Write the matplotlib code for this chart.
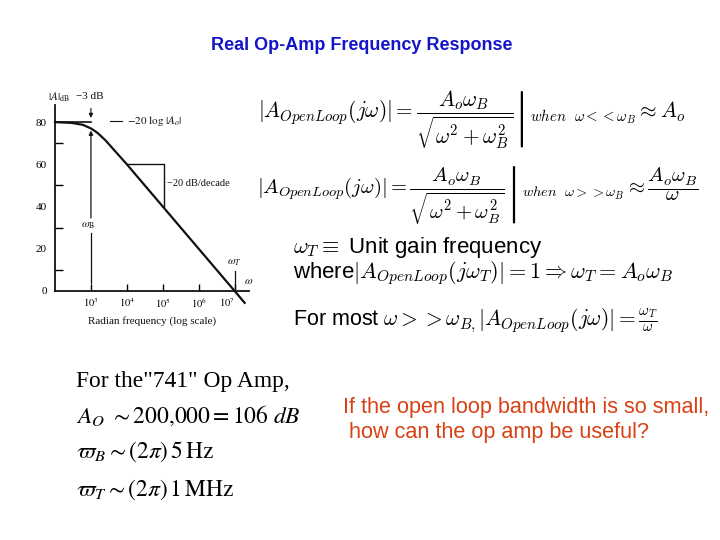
import matplotlib
matplotlib.use("Agg")
import matplotlib.pyplot as plt

W, H = 720, 540

title = "Real Op-Amp Frequency Response"

# Bode magnitude data
freq = [1e2, 3e2, 6e2, 1e3, 1.5e3, 2.5e3, 1e4, 1e5, 1e6, 1e7, 1.9e7]
gain_db = [80, 79.6, 78.7, 77.0, 75.0, 71.5, 60, 40, 20, 0, -5.6]
asym_freq = [1e2, 1e3]
asym_db = [80, 80]
slope_freq = [1e4, 1.1e5, 1.1e5]
slope_db = [60, 60, 40]

y_ticks = [0, 20, 40, 60, 80]
y_minor = [10, 30, 50, 70]
x_ticks = [1e3, 1e4, 1e5, 1e6, 1e7]
x_ticklabels = [r"$10^3$", r"$10^4$", r"$10^5$", r"$10^6$", r"$10^7$"]

eq1 = (r"$|A_{OpenLoop}(j\omega)| = \left.\dfrac{A_o\omega_B}{\sqrt{\omega^2+\omega_B^2}}\right|"
       r"{}_{when\ \ \omega<<\omega_B} \approx A_o$")
eq2 = (r"$|A_{OpenLoop}(j\omega)| = \left.\dfrac{A_o\omega_B}{\sqrt{\omega^2+\omega_B^2}}\right|"
       r"{}_{when\ \ \omega>>\omega_B} \approx \dfrac{A_o\omega_B}{\omega}$")
eq3 = r"$\omega_T \equiv$ Unit gain frequency"
eq4 = r"where$|A_{OpenLoop}(j\omega_T)| = 1 \Rightarrow \omega_T = A_o\omega_B$"
eq5 = r"For most $\omega >> \omega_{B,}|A_{OpenLoop}(j\omega)| = \frac{\omega_T}{\omega}$"

op_lines = [
    'For the"741" Op Amp,',
    r"$A_O\ \sim 200{,}000 = 106\ dB$",
    r"$\varpi_B \sim (2\pi)\,5\,\mathrm{Hz}$",
    r"$\varpi_T \sim (2\pi)\,1\,\mathrm{MHz}$",
]
question = "If the open loop bandwidth is so small,\n how can the op amp be useful?"

fig = plt.figure(figsize=(W / 100, H / 100), dpi=100)
fig.patch.set_facecolor("white")


def fx(x):
    return x / W


def fy(y):
    return 1 - y / H


# Title
fig.text(fx(362), fy(45), title, ha="center", va="center", fontsize=13,
         fontweight="bold", color="#1414C8", family="Liberation Sans")

# Bode plot axes
ax = fig.add_axes([fx(55), fy(291), (249 - 55) / W, (291 - 105) / H])
ax.set_xscale("log")
ax.set_xlim(10 ** 2.0, 10 ** 7.4)
ax.set_ylim(0, 88.1)
for s in ("top", "right"):
    ax.spines[s].set_visible(False)
for s in ("left", "bottom"):
    ax.spines[s].set_linewidth(1.3)
    ax.spines[s].set_color("#111111")

ax.plot(freq, gain_db, color="#111111", lw=1.6, clip_on=False)
ax.plot(asym_freq, asym_db, color="#111111", lw=1.2, clip_on=False)
ax.plot(slope_freq, slope_db, color="#111111", lw=1.0)

ax.set_yticks(y_ticks)
ax.set_yticklabels([str(v) for v in y_ticks], family="Liberation Serif", fontsize=8)
ax.set_yticks(y_minor, minor=True)
ax.tick_params(axis="y", which="major", length=0, pad=6)
ax.tick_params(axis="y", which="minor", direction="in", length=6, width=1.0)
ax.set_xticks(x_ticks)
ax.set_xticklabels(x_ticklabels, fontsize=7.5)
for lbl in ax.get_xticklabels():
    lbl.set_math_fontfamily("stix")
ax.get_xticklabels()[-1].set_horizontalalignment("right")
ax.xaxis.set_minor_locator(matplotlib.ticker.NullLocator())
ax.tick_params(axis="x", which="major", direction="in", length=5, width=1.0, pad=4)

serif = dict(family="Liberation Serif", math_fontfamily="stix", color="#111111")

ax.text(10 ** 1.81, 91.8, r"$|A|_{\rm dB}$", ha="left", va="center", fontsize=8,
        clip_on=False, **serif)
ax.text(10 ** 2.97, 92.2, "\u22123 dB", ha="center", va="center", fontsize=8,
        clip_on=False, **serif)
ax.annotate("", xy=(1e3, 82), xytext=(1e3, 86.5), annotation_clip=False,
            arrowprops=dict(arrowstyle="-|>", lw=0.8, color="#111111", mutation_scale=6,
                            shrinkA=0, shrinkB=0))
ax.plot([10 ** 3.54, 10 ** 3.87], [80.5, 80.5], color="#111111", lw=0.8, clip_on=False)
ax.text(10 ** 4.01, 80.5, r"$-20\ \log\,|A_o|$",
        ha="left", va="center", fontsize=8, clip_on=False, **serif)
ax.annotate("", xy=(1e3, 76), xytext=(1e3, 34.6),
            arrowprops=dict(arrowstyle="-|>", lw=0.9, color="#111111", mutation_scale=6,
                            shrinkA=0, shrinkB=0))
ax.plot([1e3, 1e3], [3.8, 27.5], color="#111111", lw=0.9)
ax.text(10 ** 2.93, 31, r"$\omega_{\rm B}$", ha="center", va="center", fontsize=8, **serif)
ax.text(10 ** 5.125, 50.7, "\u221220 dB/decade", ha="left", va="center", fontsize=7.5,
        **serif)
ax.text(1e7, 13.5, r"$\omega_T$", ha="center", va="center", fontsize=8, **serif)
ax.plot([1e7, 1e7], [0.8, 9.6], color="#111111", lw=0.9)
ax.text(10 ** 7.38, 4.5, r"$\omega$", ha="center", va="center", fontsize=8, clip_on=False,
        **serif)
fig.text(fx(152.5), fy(321), "Radian frequency (log scale)", ha="center", va="center",
         fontsize=8, **serif)

# Right-hand equations
mth = dict(family="Liberation Sans", math_fontfamily="cm", color="black")
fig.text(fx(258), fy(120), eq1, ha="left", va="center", fontsize=15.3, **mth)
fig.text(fx(257), fy(195), eq2, ha="left", va="center", fontsize=14.8, **mth)
fig.text(fx(293), fy(247), eq3, ha="left", va="center", fontsize=16, **mth)
fig.text(fx(293), fy(273), eq4, ha="left", va="center", fontsize=16, **mth)
fig.text(fx(293), fy(321), eq5, ha="left", va="center", fontsize=15.5, **mth)

# 741 Op Amp block
for txt, yy in zip(op_lines, [382, 416, 452, 490]):
    fig.text(fx(76), fy(yy), txt, ha="left", va="center", fontsize=16.9,
             family="Liberation Serif", math_fontfamily="stix", color="black")

# Question
fig.text(fx(343), fy(420), question, ha="left", va="center", fontsize=15.6,
         family="Liberation Sans", color="#D74114", linespacing=1.2)

fig.savefig("out.png", dpi=100)
